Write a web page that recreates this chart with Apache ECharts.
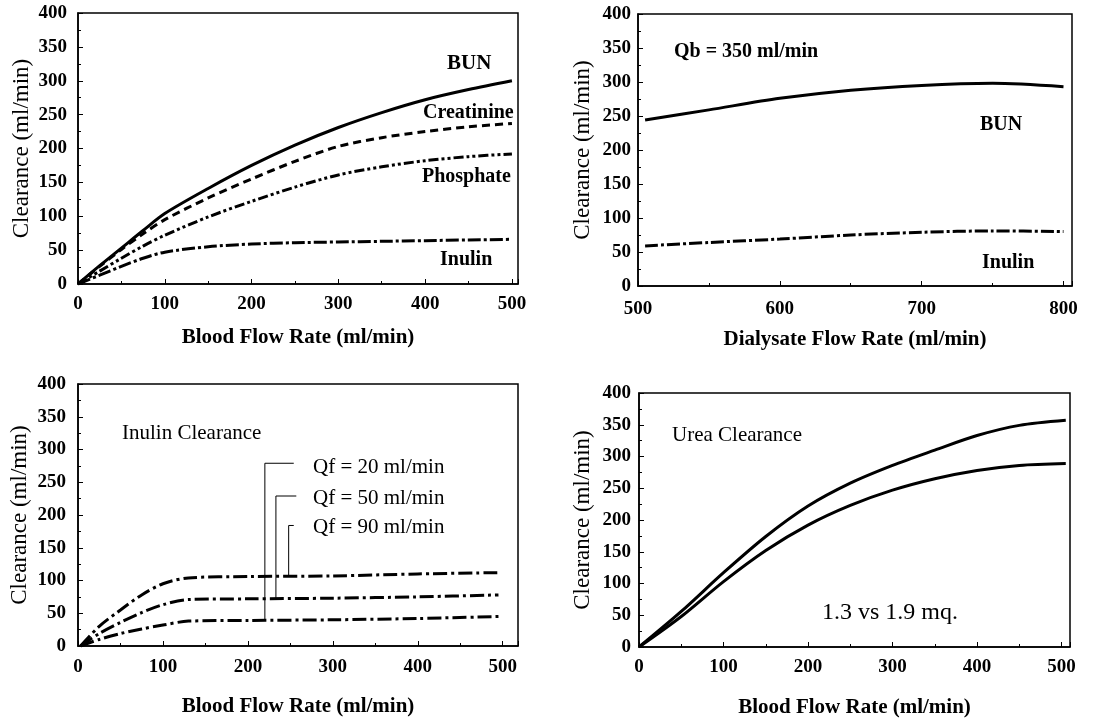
<!DOCTYPE html>
<html>
<head>
<meta charset="utf-8">
<script src="https://cdn.jsdelivr.net/npm/echarts@6/dist/echarts.min.js"></script>
<style>
  html, body { margin: 0; padding: 0; background: #fff; }
  #chart { width: 1108px; height: 725px; }
</style>
</head>
<body>
<div id="chart"></div>
<script>
"use strict";

// ── panel A: clearance vs blood flow ──
const xA = [0, 25, 50, 75, 100, 150, 200, 250, 300, 350, 400, 450, 500];
const bunA = [0, 27, 53, 79, 104, 141, 175, 205, 231, 253, 272, 287, 300];
const creatA = [0, 26, 51, 74, 95, 127, 155, 181, 203, 216, 225, 232, 237];
const phosA = [0, 19, 38, 56, 72, 99, 122, 143, 161, 173, 182, 188, 192];
const inulinA = [0, 13, 26, 38, 47, 55, 59, 61, 62, 63, 64, 65, 66];

// ── panel B: clearance vs dialysate flow (Qb = 350) ──
const xB = [505, 550, 600, 650, 700, 750, 800];
const bunB = [244, 259, 276, 288, 295, 298, 293];
const inulinB = [59, 64, 69, 75, 79, 81, 80];

// ── panel C: inulin clearance by Qf ──
const xC = [3, 25, 50, 75, 100, 130, 200, 300, 400, 495];
const qf90 = [0, 30, 55, 78, 95, 104, 106, 107, 110, 112];
const qf50 = [0, 19, 36, 51, 63, 71, 72, 73, 75, 78];
const qf20 = [0, 10, 19, 26, 32, 38, 39, 40, 42, 45];
const qfLabels = ["Qf = 20 ml/min", "Qf = 50 ml/min", "Qf = 90 ml/min"];
// leader lines (data coords)
const lead20 = [[220, 39], [220, 279], [254, 279]];
const lead50 = [[233, 72], [233, 229], [257, 229]];
const lead90 = [[248, 107], [248, 184], [254, 184]];

// ── panel D: urea clearance, 1.3 vs 1.9 m² ──
const xD = [0, 50, 100, 150, 200, 250, 300, 350, 400, 450, 505];
const ureaBig = [0, 56, 117, 174, 222, 258, 286, 310, 333, 349, 357];
const ureaSmall = [0, 48, 103, 152, 192, 223, 247, 265, 278, 286, 289];

const FONT = "Liberation Serif";
const zip = (xs, ys) => xs.map((x, i) => [x, ys[i]]);

function xAxisOf(idx, min, max, margin, gap, name) {
  return {
    gridIndex: idx, type: "value", min, max, interval: 100,
    name, nameLocation: "middle", nameGap: gap,
    nameTextStyle: { fontFamily: FONT, fontWeight: "bold", fontSize: 21, color: "#000" },
    axisLine: { show: true, lineStyle: { color: "#000", width: 1.5 } },
    axisTick: { show: true, inside: true, length: 5, lineStyle: { color: "#000" } },
    minorTick: { show: true, splitNumber: 2, length: 3, lineStyle: { color: "#000" } },
    splitLine: { show: false },
    axisLabel: {
      fontFamily: FONT, fontWeight: "bold", fontSize: 19, color: "#000", margin,
      showMaxLabel: max % 100 === 0,
      formatter: v => (v % 100 === 0 ? String(v) : ""),
    },
  };
}

function yAxisOf(idx, margin, gap) {
  return {
    gridIndex: idx, type: "value", min: 0, max: 400, interval: 50,
    name: "Clearance (ml/min)", nameLocation: "middle", nameGap: gap, nameRotate: 90,
    nameTextStyle: { fontFamily: FONT, fontSize: 23, color: "#000" },
    axisLine: { show: true, lineStyle: { color: "#000", width: 1.5 } },
    axisTick: { show: true, inside: true, length: 5, lineStyle: { color: "#000" } },
    minorTick: { show: true, splitNumber: 2, length: 3, lineStyle: { color: "#000" } },
    splitLine: { show: false },
    axisLabel: { fontFamily: FONT, fontWeight: "bold", fontSize: 19, color: "#000", margin },
  };
}

function curve(idx, data, dash) {
  return {
    type: "line", xAxisIndex: idx, yAxisIndex: idx, data, smooth: 0.3,
    showSymbol: false, silent: true,
    lineStyle: { color: "#000", width: 3, type: dash || "solid" },
  };
}

function leader(data) {
  return {
    type: "line", xAxisIndex: 2, yAxisIndex: 2, data, showSymbol: false, silent: true,
    lineStyle: { color: "#000", width: 1 },
  };
}

function txt(left, top, text, size, bold) {
  return {
    type: "text", left, top,
    style: { text, fill: "#000", font: (bold ? "bold " : "") + size + "px '" + FONT + "'" },
  };
}

const gridBox = { show: true, borderColor: "#000", borderWidth: 1.5, containLabel: false, outerBoundsMode: "none" };

const chart = echarts.init(document.getElementById("chart"));
chart.setOption({
  animation: false,
  backgroundColor: "#fff",
  grid: [
    { ...gridBox, left: 78, top: 13, width: 440, height: 271 },
    { ...gridBox, left: 638, top: 14, width: 434, height: 272 },
    { ...gridBox, left: 78, top: 384, width: 440, height: 262 },
    { ...gridBox, left: 639, top: 393, width: 431, height: 254 },
  ],
  xAxis: [
    xAxisOf(0, 0, 507, 11, 43, "Blood Flow Rate (ml/min)"),
    xAxisOf(1, 500, 806, 14, 43, "Dialysate Flow Rate (ml/min)"),
    xAxisOf(2, 0, 518, 12, 50, "Blood Flow Rate (ml/min)"),
    xAxisOf(3, 0, 510, 11, 50, "Blood Flow Rate (ml/min)"),
  ],
  yAxis: [yAxisOf(0, 11, 45), yAxisOf(1, 7, 44), yAxisOf(2, 12, 47), yAxisOf(3, 8, 45)],
  series: [
    curve(0, zip(xA, bunA)),
    curve(0, zip(xA, creatA), [8, 5]),
    curve(0, zip(xA, phosA), [10, 3, 3, 3, 3, 3]),
    curve(0, zip(xA, inulinA), [13, 3, 3, 3]),
    curve(1, zip(xB, bunB)),
    curve(1, zip(xB, inulinB), [13, 3, 3, 3]),
    curve(2, zip(xC, qf90), [14, 4, 3, 4]),
    curve(2, zip(xC, qf50), [14, 4, 3, 4]),
    curve(2, zip(xC, qf20), [14, 4, 3, 4]),
    leader(lead20), leader(lead50), leader(lead90),
    curve(3, zip(xD, ureaBig)),
    curve(3, zip(xD, ureaSmall)),
  ],
  graphic: [
    txt(447, 53, "BUN", 21, true),
    txt(423, 103, "Creatinine", 20, true),
    txt(422, 167, "Phosphate", 20, true),
    txt(440, 250, "Inulin", 20, true),
    txt(674, 42, "Qb = 350 ml/min", 20, true),
    txt(980, 115, "BUN", 20, true),
    txt(982, 253, "Inulin", 20, true),
    txt(122, 423, "Inulin Clearance", 21, false),
    txt(313, 457, qfLabels[0], 21, false),
    txt(313, 488, qfLabels[1], 21, false),
    txt(313, 517, qfLabels[2], 21, false),
    txt(672, 425, "Urea Clearance", 21, false),
    txt(822, 601, "1.3 vs 1.9 mq.", 24, false),
  ],
});
</script>
</body>
</html>
